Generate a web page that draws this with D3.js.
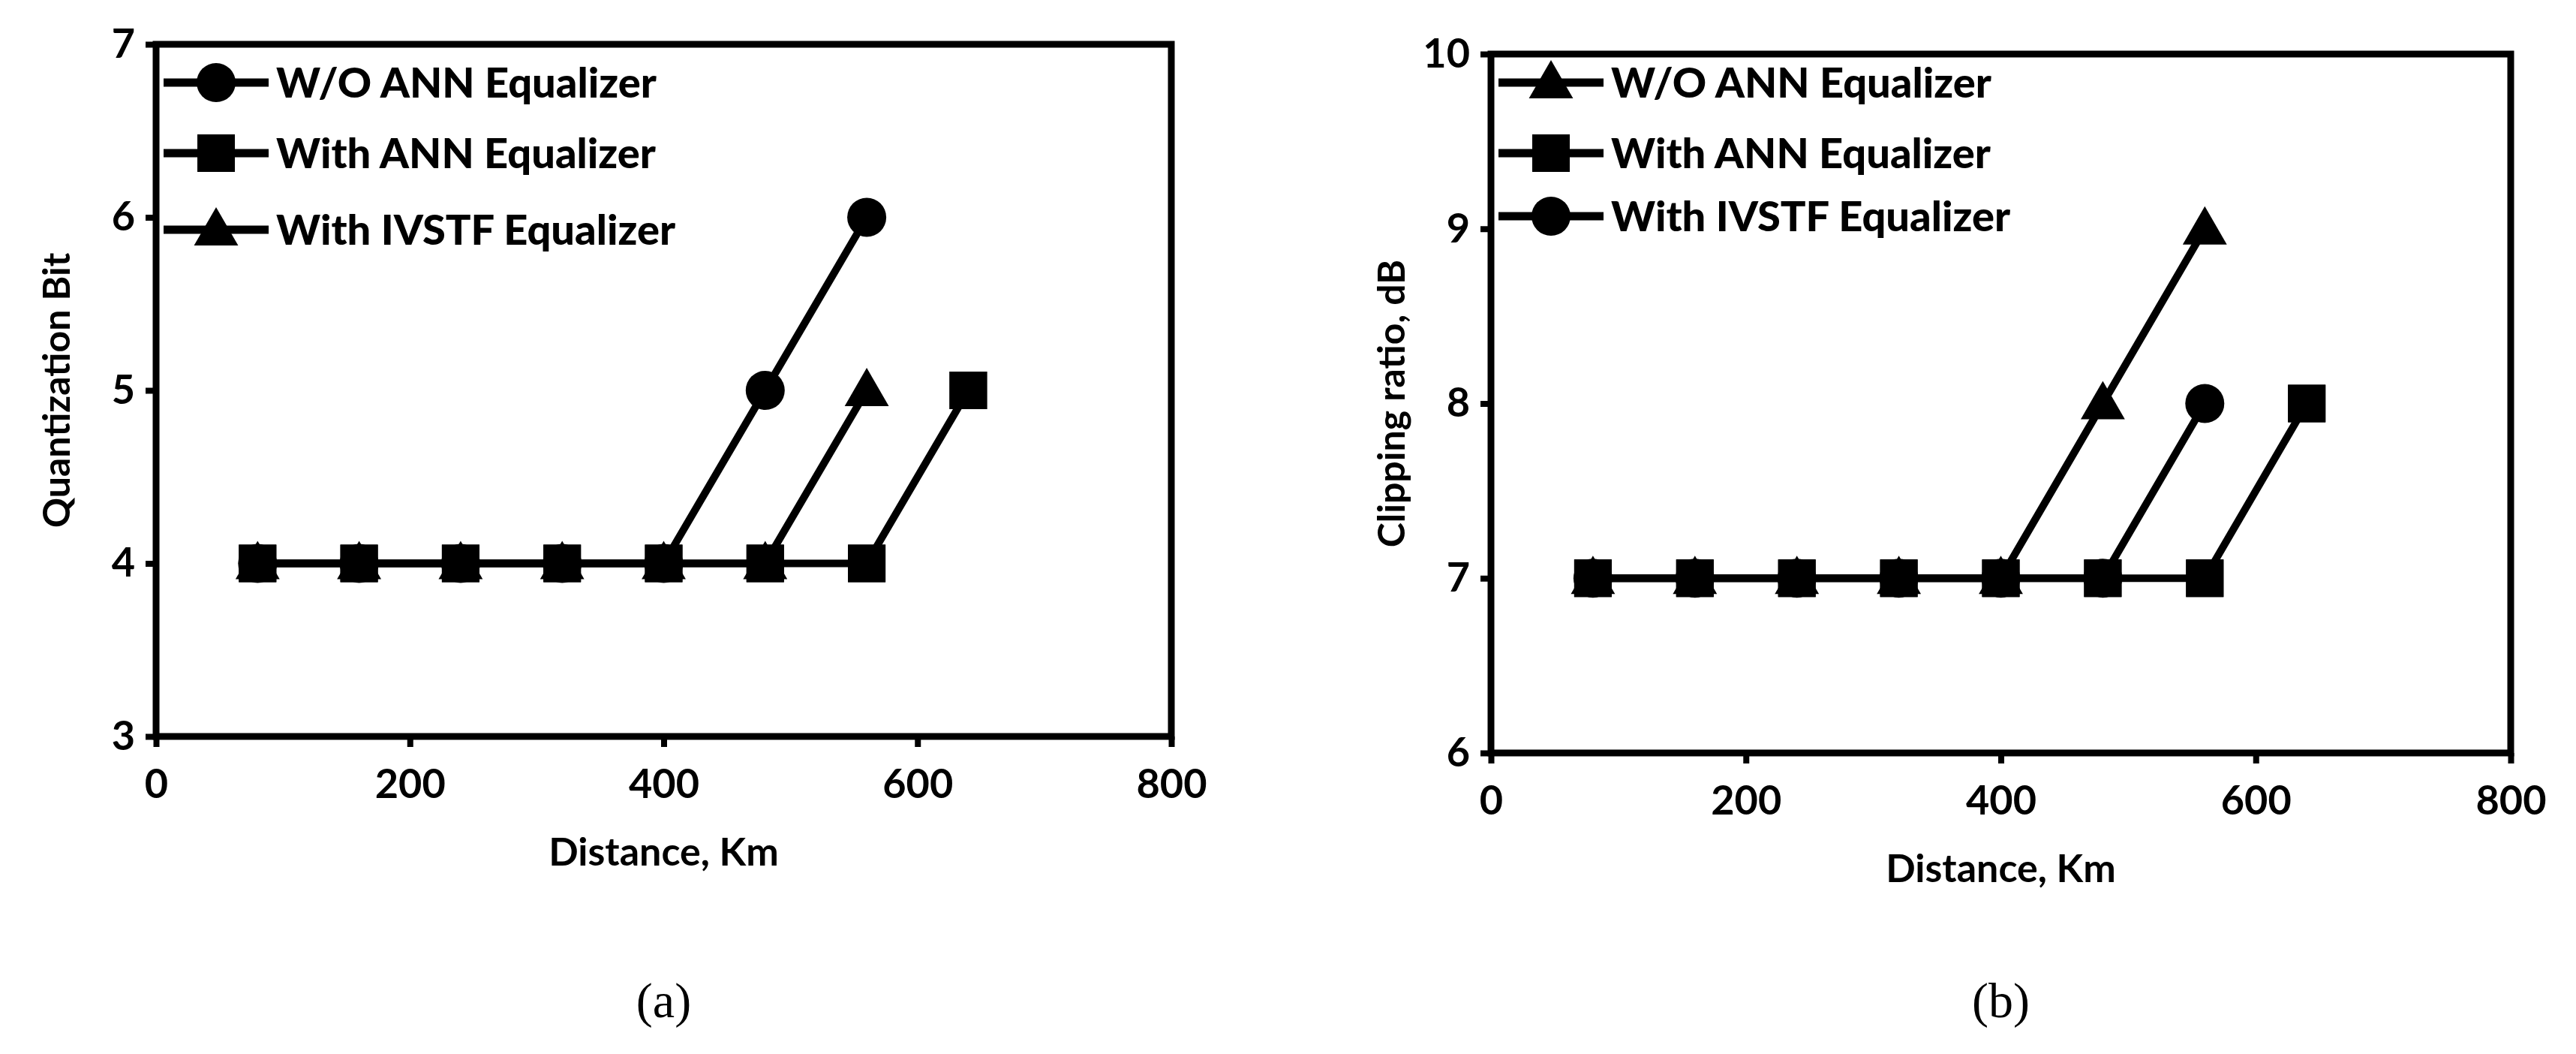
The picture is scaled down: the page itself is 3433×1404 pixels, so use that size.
<!DOCTYPE html><html><head><meta charset="utf-8">
<script src="https://cdn.jsdelivr.net/npm/d3@7"></script>
<style>body{margin:0;background:#fff}</style></head><body>
<svg id="c" width="3433" height="1404"></svg>
<script>
const distances=[80,160,240,320,400,480,560,640];
const xTicks=[0,200,400,600,800];
const aYTicks=[3,4,5,6,7];
const bYTicks=[6,7,8,9,10];
const legendLabels=["W/O ANN Equalizer","With ANN Equalizer","With IVSTF Equalizer"];
// panel a
const aWoAnn=[4,4,4,4,4,5,6,null];
const aAnn=[4,4,4,4,4,4,4,5];
const aIvstf=[4,4,4,4,4,4,5,null];
// panel b
const bWoAnn=[7,7,7,7,7,8,9,null];
const bAnn=[7,7,7,7,7,7,7,8];
const bIvstf=[7,7,7,7,7,7,8,null];

const svg=d3.select("#c");
const F="Lato, 'Open Sans', sans-serif";
function sym(g,type,x,y){
  if(type==="circle") g.append("circle").attr("cx",x).attr("cy",y).attr("r",26);
  else if(type==="square") g.append("rect").attr("x",x-25).attr("y",y-25).attr("width",50).attr("height",50);
  else g.append("path").attr("d",d3.symbol(d3.symbolTriangle,1500)()).attr("transform",`translate(${x},${y+4})`);
}
function panel(o){
  const x=d3.scaleLinear().domain([0,800]).range([o.x0,o.x1]);
  const y=d3.scaleLinear().domain(o.yd).range([o.y1,o.y0]);
  const g=svg.append("g");
  g.append("rect").attr("x",o.x0).attr("y",o.y0).attr("width",o.x1-o.x0).attr("height",o.y1-o.y0).attr("fill","none").attr("stroke","#000").attr("stroke-width",9);
  const ya=g.append("g").attr("transform",`translate(${o.x0},0)`).call(d3.axisLeft(y).tickValues(o.yt).tickFormat(d3.format("d")).tickSize(14).tickPadding(14));
  const xa=g.append("g").attr("transform",`translate(0,${o.y1})`).call(d3.axisBottom(x).tickValues(xTicks).tickFormat(d3.format("d")).tickSize(14).tickPadding(30));
  [ya,xa].forEach(a=>{a.select(".domain").remove();a.selectAll("line").attr("stroke","#000").attr("stroke-width",8);
    a.selectAll("text").attr("font-family",F).attr("font-weight","bold").attr("font-size",54).attr("fill","#000");});
  g.append("text").attr("x",(o.x0+o.x1)/2).attr("y",o.y1+172).attr("text-anchor","middle").attr("font-family",F).attr("font-weight","bold").attr("font-size",52).text("Distance, Km");
  g.append("text").attr("transform",`translate(${o.x0-115},${(o.y0+o.y1)/2}) rotate(-90)`).attr("text-anchor","middle").attr("font-family",F).attr("font-weight","bold").attr("font-size",50).text(o.ylab);
  g.append("text").attr("x",(o.x0+o.x1)/2).attr("y",1355).attr("text-anchor","middle").attr("font-family","'Liberation Serif',serif").attr("font-size",66).text(o.cap);
  const line=d3.line().defined(d=>d[1]!=null).x(d=>x(d[0])).y(d=>y(d[1]));
  o.series.forEach(s=>{
    const pts=distances.map((d,i)=>[d,s.v[i]]);
    g.append("path").attr("d",line(pts)).attr("fill","none").attr("stroke","#000").attr("stroke-width",10);
    pts.filter(p=>p[1]!=null).forEach(p=>sym(g,s.m,x(p[0]),y(p[1])));
  });
  const ann=o.series[1];
  distances.forEach((d,i)=>{if(ann.v[i]!=null)sym(g,"square",x(d),y(ann.v[i]));});
  o.series.forEach((s,i)=>{
    const ly=o.ly[i];
    g.append("line").attr("x1",o.lx).attr("x2",o.lx+140).attr("y1",ly).attr("y2",ly).attr("stroke","#000").attr("stroke-width",11);
    sym(g,s.m,o.lx+70,ly);
    g.append("text").attr("x",o.lx+150).attr("y",ly+20).attr("font-family",F).attr("font-weight","900").attr("font-size",56).text(legendLabels[i]);
  });
}
panel({x0:208,x1:1561,y0:59,y1:981,yd:[3,7],yt:aYTicks,ylab:"Quantization Bit",cap:"(a)",lx:218,ly:[110,204,306],
  series:[{v:aWoAnn,m:"circle"},{v:aAnn,m:"square"},{v:aIvstf,m:"triangle"}]});
panel({x0:1987,x1:3346,y0:72,y1:1003,yd:[6,10],yt:bYTicks,ylab:"Clipping ratio, dB",cap:"(b)",lx:1997,ly:[110,204,288],
  series:[{v:bWoAnn,m:"triangle"},{v:bAnn,m:"square"},{v:bIvstf,m:"circle"}]});
</script></body></html>
